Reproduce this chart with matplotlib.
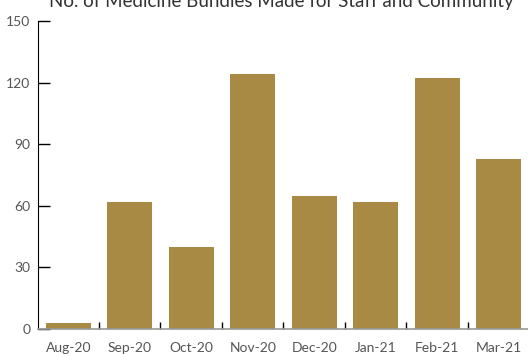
import matplotlib
matplotlib.use('Agg')
import matplotlib.pyplot as plt
from matplotlib.ticker import FixedLocator

months = ['Aug-20', 'Sep-20', 'Oct-20', 'Nov-20', 'Dec-20', 'Jan-21', 'Feb-21', 'Mar-21']
bundles = [3, 62, 40, 124, 65, 62, 122, 83]
y_ticks = [0, 30, 60, 90, 120, 150]

plt.rcParams['font.family'] = ['Lato', 'DejaVu Sans']

fig = plt.figure(figsize=(5.28, 3.54), dpi=100)
ax = fig.add_axes([37.5 / 528, 25 / 354, 492 / 528, 308 / 354])

x = range(len(months))
ax.bar(x, bundles, width=0.73, color='#a88a44', zorder=2)

ax.set_xlim(-0.5, len(months) - 0.5)
ax.set_ylim(0, 150)
ax.set_yticks(y_ticks)
ax.set_xticks(list(x))
ax.set_xticklabels(months)
ax.xaxis.set_minor_locator(FixedLocator([i + 0.5 for i in range(len(months) - 1)]))

ax.tick_params(axis='y', direction='in', length=8.5, width=1, color='black',
               labelsize=10, labelcolor='#555555', pad=5)
ax.tick_params(axis='x', which='major', length=0, labelsize=10, labelcolor='#555555', pad=9)
ax.tick_params(axis='x', which='minor', direction='in', length=5, width=1, color='black')

for s in ['top', 'right']:
    ax.spines[s].set_visible(False)
ax.spines['left'].set_color('black')
ax.spines['bottom'].set_color('#999999')
ax.spines['bottom'].set_linewidth(1.2)

# titre coupé en haut, comme dans l'original
fig.text(0.532, 0.995, 'No. of Medicine Bundles Made for Staff and Community',
         ha='center', va='center', fontsize=13.5, color='#333333')

fig.savefig('out.png', dpi=100)
